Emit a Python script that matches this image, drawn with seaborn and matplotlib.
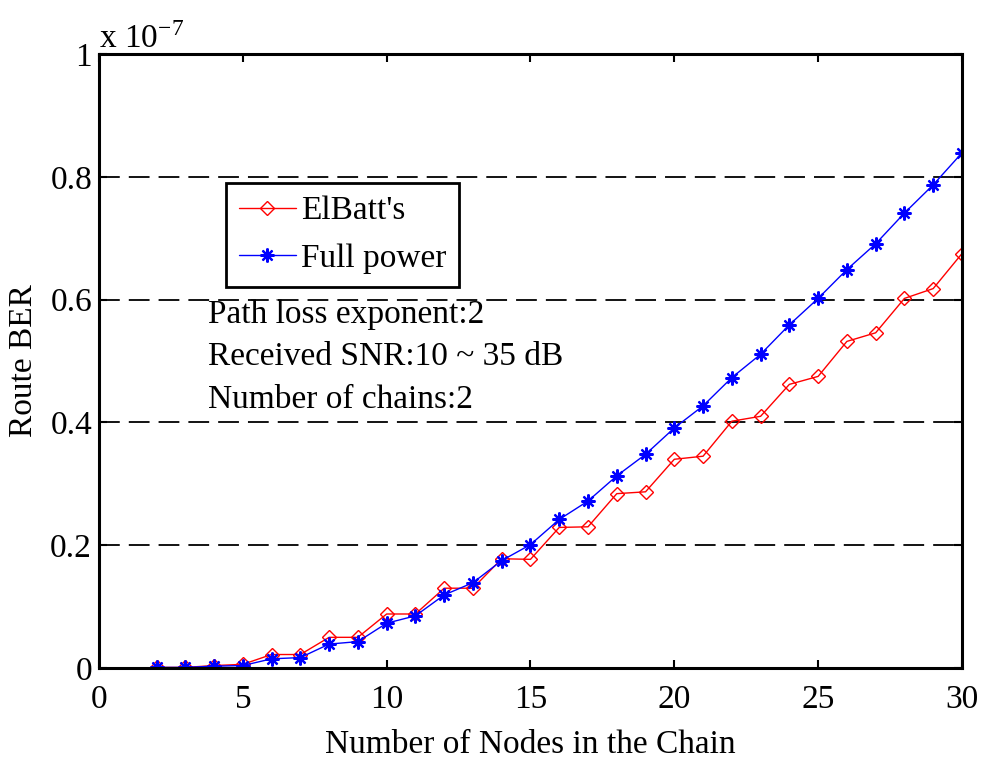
import matplotlib
matplotlib.use("Agg")
import matplotlib.pyplot as plt
from matplotlib.ticker import FormatStrFormatter
from matplotlib.transforms import offset_copy
import seaborn as sns

# Route BER (in units of 1e-7) versus number of nodes in the chain
nodes = list(range(2, 31))
elbatt = [0.001, 0.001, 0.004, 0.006, 0.022, 0.022, 0.050, 0.050, 0.088, 0.088,
          0.130, 0.130, 0.178, 0.177, 0.229, 0.230, 0.284, 0.287, 0.340, 0.345,
          0.402, 0.410, 0.462, 0.475, 0.532, 0.546, 0.602, 0.618, 0.675]
full_power = [0.001, 0.001, 0.003, 0.004, 0.015, 0.017, 0.039, 0.043, 0.073, 0.085,
              0.119, 0.139, 0.175, 0.201, 0.242, 0.272, 0.313, 0.348, 0.391, 0.427,
              0.473, 0.511, 0.559, 0.602, 0.649, 0.691, 0.741, 0.787, 0.839]
series_names = ["ElBatt's", "Full power"]
notes = ["Path loss exponent:2", "Received SNR:10 ~ 35 dB", "Number of chains:2"]
note_y = [0.562, 0.493, 0.423]

sns.set_style("ticks")
plt.rcParams["font.family"] = ["Liberation Serif", "DejaVu Serif"]
plt.rcParams["mathtext.fontset"] = "stix"
for key in ("text.color", "axes.labelcolor", "xtick.color", "ytick.color"):
    plt.rcParams[key] = "black"

FS = 24

fig = plt.figure(figsize=(9.83, 7.58), dpi=100)
ax = fig.add_axes([0.1007, 0.1187, 0.8779, 0.8100])

# hollow red diamonds
sns.lineplot(x=nodes, y=elbatt, color="#ff0000", linewidth=1.0, marker="D",
             markersize=7, markerfacecolor="none", markeredgecolor="#ff0000",
             markeredgewidth=1.0, ax=ax, label=series_names[0])
# blue asterisks
sns.lineplot(x=nodes, y=full_power, color="#0000ff", linewidth=1.0,
             marker=(8, 2, 0), markersize=10, markeredgecolor="#0000ff",
             markeredgewidth=1.6, ax=ax, label=series_names[1])

ax.set_xlim(0, 30)
ax.set_ylim(0, 1)
ax.set_xticks(range(0, 31, 5))
ax.set_yticks([0, 0.2, 0.4, 0.6, 0.8, 1.0])
ax.yaxis.set_major_formatter(FormatStrFormatter("%g"))
ax.yaxis.grid(True, color="black", linestyle=(0, (11.5, 5)), linewidth=1.3)
ax.xaxis.grid(False)
ax.tick_params(direction="in", top=True, right=True, length=6, width=1.5,
               labelsize=FS)
ax.tick_params(axis="x", pad=12)
ax.tick_params(axis="y", pad=5)
for s in ax.spines.values():
    s.set_linewidth(2.2)
    s.set_color("black")
    s.set_visible(True)

ax.set_xlabel("Number of Nodes in the Chain", fontsize=FS, labelpad=10)
ax.set_ylabel("Route BER", fontsize=FS, labelpad=8)

# exponent label above the top-left corner
ax.text(0.0, 1.0, r"x 10$^{\mathregular{-7}}$",
        transform=offset_copy(ax.transAxes, fig=fig, x=0, y=6, units="dots"),
        fontsize=FS, ha="left", va="baseline")

leg = ax.legend(loc="upper left", bbox_to_anchor=(0.1472, 0.790),
                borderaxespad=0, fontsize=FS, frameon=True, fancybox=False,
                edgecolor="black", handlelength=1.7, borderpad=0.39,
                labelspacing=0.51, handletextpad=0.15)
leg.get_frame().set_linewidth(2.0)
leg.get_frame().set_alpha(1)

for t, yv in zip(notes, note_y):
    ax.text(3.79, yv, t, fontsize=FS, ha="left", va="baseline")

fig.savefig("out.png", dpi=100, facecolor="white")
